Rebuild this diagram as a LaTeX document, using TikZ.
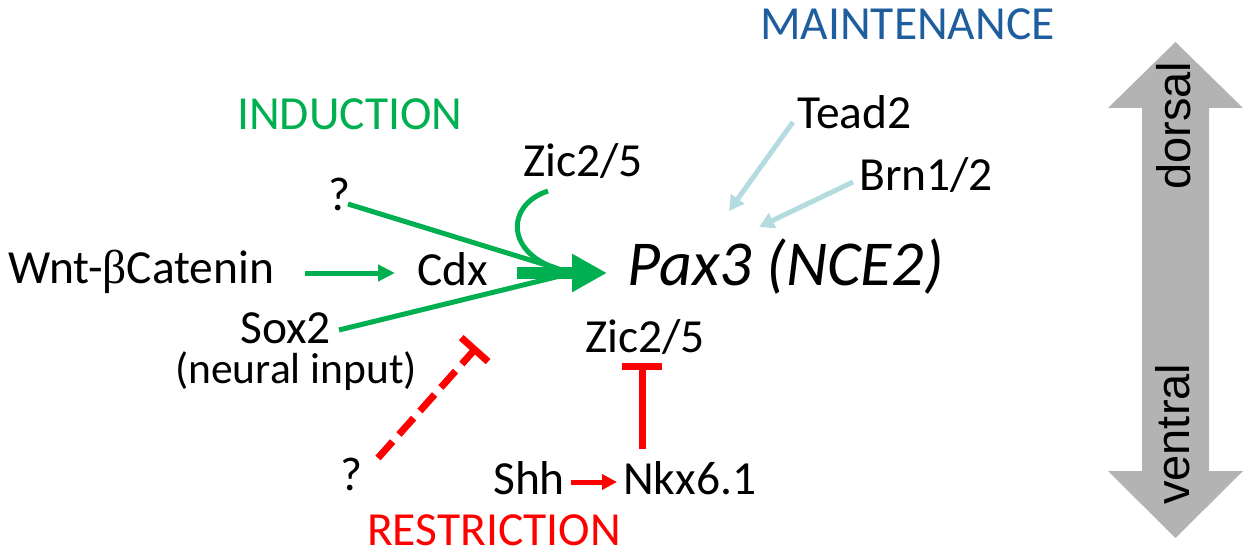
\documentclass[tikz,border=0pt]{standalone}
\usepackage{fontspec}
\setmainfont{Carlito}
\newfontfamily\arialf{Liberation Sans}
\newfontfamily\serifg{Liberation Serif}
\usetikzlibrary{arrows.meta}
\definecolor{ggreen}{HTML}{00B050}
\definecolor{rred}{HTML}{FF0000}
\definecolor{mblue}{HTML}{1F5E9E}
\definecolor{lblue}{HTML}{B4DCE0}
\definecolor{agray}{HTML}{B3B3B3}
\begin{document}
\begin{tikzpicture}[x=1pt,y=-1pt,
  lab/.style={inner sep=0pt, anchor=base west, font=\fontsize{47.5}{50}\selectfont},
  smalllab/.style={inner sep=0pt, anchor=base west, font=\fontsize{43.5}{46}\selectfont},
  paxlab/.style={inner sep=0pt, anchor=base west, font=\fontsize{64}{68}\selectfont\itshape},
  sidelab/.style={inner sep=0pt, anchor=base west, rotate=90, font=\fontsize{47}{50}\selectfont\arialf},
  gline/.style={draw=ggreen, line width=5pt},
  gtip/.style={-{Triangle[length=17pt,width=16pt]}},
  rline/.style={draw=rred, line width=7pt},
  bline/.style={draw=lblue, line width=5pt, -{Triangle[length=15pt,width=16pt]}}]
\useasboundingbox (0,0) rectangle (1249,556);

% dorsal-ventral arrow
\fill[agray] (1175.5,42) -- (1243,108) -- (1209,108) -- (1209,471) -- (1243,471)
  -- (1175.5,538) -- (1108,471) -- (1142,471) -- (1142,108) -- (1108,108) -- cycle;
\node[sidelab] (dorsal) at (1190,190) {dorsal};
\node[sidelab] (ventral) at (1189,505) {ventral};

% labels
\node[lab,text=mblue] (maint) at (760,40) {MAINTENANCE};
\node[lab,text=ggreen] (ind) at (237,130) {INDUCTION};
\node[lab] (tead) at (797,129) {Tead2};
\node[lab] (brn) at (859,190) {Brn1/2};
\node[lab] (zicup) at (523,176) {Zic2/5};
\node[lab] (q1) at (328,211) {?};
\node[lab] (wnt) at (8,283) {Wnt-{\serifg β}Catenin};
\node[lab] (cdx) at (417,285) {Cdx};
\node[paxlab] (pax) at (627,285) {Pax3 (NCE2)};
\node[lab] (sox) at (240,343) {Sox2};
\node[smalllab] (neural) at (175,383) {(neural input)};
\node[lab] (ziclo) at (585,352) {Zic2/5};
\node[lab] (q2) at (340,490) {?};
\node[lab] (shh) at (493,494) {Shh};
\node[lab] (nkx) at (623,494) {Nkx6.1};
\node[lab,text=rred] (restr) at (367,545) {RESTRICTION};

% connector end points
\coordinate (q1s) at (348,204);
\coordinate (q1e) at (556,268);
\coordinate (soxs) at (339,330);
\coordinate (soxe) at (560,276);
\coordinate (zics) at (548,191);
\coordinate (zice) at (562,270);
\coordinate (wnts) at (305,273);
\coordinate (cdxe) at (395,273);
\coordinate (js) at (517,273);
\coordinate (paxe) at (607,273);
\coordinate (teads) at (793,122);
\coordinate (teade) at (729,211);
\coordinate (brns) at (853,182);
\coordinate (brne) at (759,227);
\coordinate (q2s) at (378,458);
\coordinate (q2e) at (477,347);
\coordinate (nkxs) at (642,449);
\coordinate (ziclos) at (642,363);
\coordinate (shhs) at (571,482);
\coordinate (nkxe) at (617,482);

% induction
\draw[gline] (q1s) -- (q1e);
\draw[gline] (soxs) -- (soxe);
\draw[gline] (zics) .. controls (505,205) and (505,255) .. (zice);
\draw[gline,gtip] (wnts) -- (cdxe);
\draw[draw=ggreen, line width=12pt, -{Triangle[length=35pt,width=36pt]}] (js) -- (paxe);

% maintenance
\draw[bline] (teads) -- (teade);
\draw[bline] (brns) -- (brne);

% restriction
\draw[rline, dash pattern=on 22pt off 9.5pt, -{Bar[width=36pt]}] (q2s) -- (q2e);
\draw[rline, -{Bar[width=40pt]}] (nkxs) -- (ziclos);
\draw[draw=rred, line width=5pt, -{Triangle[length=15pt,width=15pt]}] (shhs) -- (nkxe);
\end{tikzpicture}
\end{document}
